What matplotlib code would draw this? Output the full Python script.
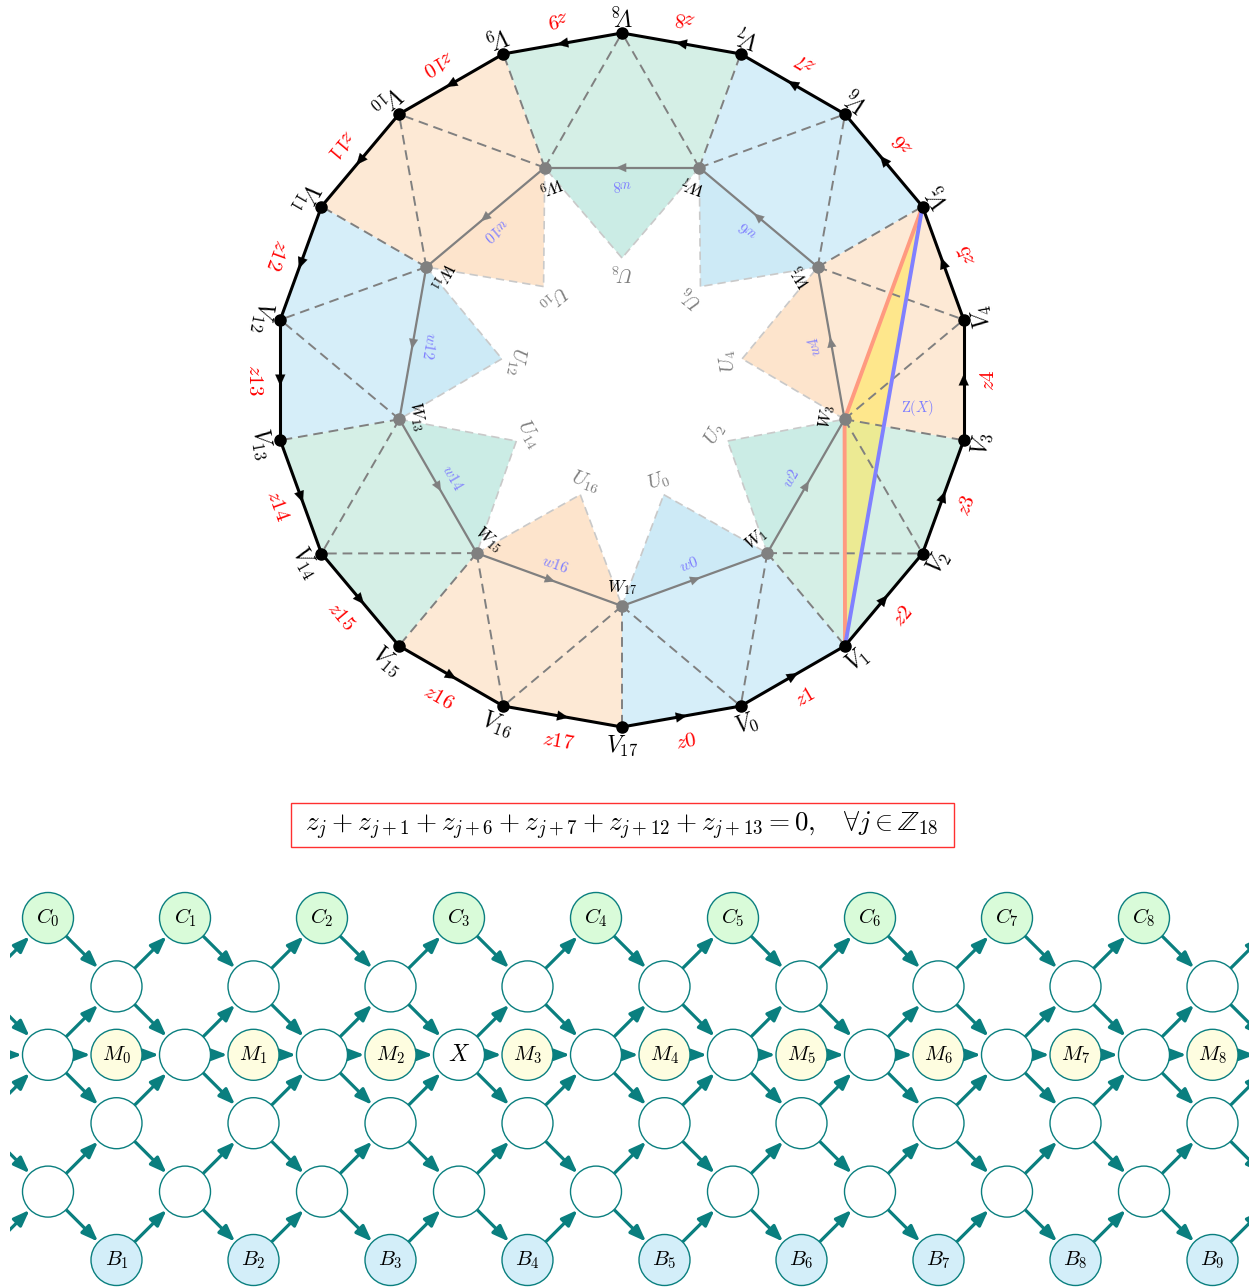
import numpy as np
import matplotlib
matplotlib.use("Agg")
import matplotlib.pyplot as plt
from matplotlib.patches import Polygon, Circle, FancyArrowPatch, Rectangle

plt.rcParams['mathtext.fontset'] = 'cm'
plt.rcParams['font.family'] = ['DejaVu Serif']

# ---------------- data ----------------
outer_vertices = list(range(18))                 # V_0 .. V_17
edge_labels = [f"z{k}" for k in range(18)]       # z_k on edge V_{k-1} -> V_k
inner_w = list(range(1, 18, 2))                  # W_1, W_3, ..., W_17
star_u = list(range(0, 18, 2))                   # U_0, U_2, ..., U_16
inner_edge_labels = [f"w{k}" for k in star_u]    # w_k on W_{k-1} -> W_{k+1}
region_color_names = ["blue", "green", "orange", "blue", "green", "orange", "blue", "green", "orange"]
highlight_path = [1, 3, 5]                       # V1 -> W3 -> V5 vs V1 -> V5
equation = r"$z_j+z_{j+1}+z_{j+6}+z_{j+7}+z_{j+12}+z_{j+13}=0,\quad \forall j\in\mathbb{Z}_{18}$"

top_labels = [f"C_{{{k}}}" for k in range(9)]
middle_labels = [f"M_{{{k}}}" for k in range(9)]
bottom_labels = [f"B_{{{k}}}" for k in range(1, 10)]
special_label = "X"
special_column = 6

# ---------------- style ----------------
W_PX, H_PX = 1249, 1288
CX, CY = 622, 380
R_V, R_W, R_U = 347, 226, 122
outer_fill = {"blue": "#d6eef9", "green": "#d5efe6", "orange": "#fde9d5"}
inner_fill = {"blue": "#cdeaf6", "green": "#cbece5", "orange": "#fde4cc"}
TEAL = "#0a7f7f"


def ang(k):
    return np.deg2rad(-70 + 20 * k)


def pt(r, theta):
    return np.array([CX + r * np.cos(theta), CY - r * np.sin(theta)])


def V(k):
    return pt(R_V, ang(k % 18))


def Wp(k):
    return pt(R_W, ang(k % 18))


def U(k):
    return pt(R_U, ang(k % 18))


def rot(theta):
    return (np.rad2deg(theta) + 90) % 360


def mid_arrow(ax, p, q, color, ms, hl=0.9, hw=0.4, z=6):
    p, q = np.asarray(p), np.asarray(q)
    d = (q - p) / np.linalg.norm(q - p)
    m = (p + q) / 2
    a = FancyArrowPatch(m - 6 * d, m + 6 * d,
                        arrowstyle=f"-|>,head_length={hl},head_width={hw}",
                        mutation_scale=ms, color=color, lw=0.1,
                        shrinkA=0, shrinkB=0, zorder=z)
    ax.add_patch(a)


fig = plt.figure(figsize=(W_PX / 100, H_PX / 100), dpi=100)
ax = fig.add_axes([0, 0, 1, 1])
ax.set_xlim(0, W_PX)
ax.set_ylim(H_PX, 0)
ax.axis("off")

# regions
for k, cname in zip(star_u, region_color_names):
    pent = [V(k - 1), V(k), V(k + 1), Wp(k + 1), Wp(k - 1)]
    ax.add_patch(Polygon(pent, closed=True, facecolor=outer_fill[cname], edgecolor="none", zorder=1))
    tri = [Wp(k - 1), U(k), Wp(k + 1)]
    ax.add_patch(Polygon(tri, closed=True, facecolor=inner_fill[cname], edgecolor="none", zorder=1))
    for a_, b_ in [(Wp(k - 1), U(k)), (U(k), Wp(k + 1))]:
        ax.plot([a_[0], b_[0]], [a_[1], b_[1]], color="#c9c9c9", lw=1.2, ls=(0, (5, 3)), zorder=2)

# yellow triangle
v1, w3, v5 = V(highlight_path[0]), Wp(highlight_path[1]), V(highlight_path[2])
ax.add_patch(Polygon([v1, w3, v5], closed=True, facecolor="#ffe650", alpha=0.55, edgecolor="none", zorder=2))

# dashed spokes
for k in inner_w:
    for j in (k - 1, k, k + 1):
        a_, b_ = Wp(k), V(j)
        ax.plot([a_[0], b_[0]], [a_[1], b_[1]], color="#808080", lw=1.4, ls=(0, (5, 3)), zorder=3)

# highlight lines
ax.plot([v1[0], w3[0], v5[0]], [v1[1], w3[1], v5[1]], color="#ff9a80", lw=2.8, zorder=4, solid_capstyle="round")
ax.plot([v1[0], v5[0]], [v1[1], v5[1]], color="#8080ff", lw=2.8, zorder=4, solid_capstyle="round")
ax.text(917, 408, r"$\mathrm{Z}(X)$", color="#8080ff", fontsize=10.5, ha="center", va="center", zorder=9)

# inner W polygon
for k, lab in zip(star_u, inner_edge_labels):
    p, q = Wp(k - 1), Wp(k + 1)
    ax.plot([p[0], q[0]], [p[1], q[1]], color="#808080", lw=1.6, zorder=5)
    mid_arrow(ax, p, q, "#808080", 8)
    t = ang(k)
    lp = pt(196, t)
    ax.text(lp[0], lp[1], f"${lab[0]}{lab[1:]}$", color="#7f7fff", fontsize=11,
            rotation=rot(t), ha="center", va="center", rotation_mode="anchor", zorder=9)

# outer polygon
for k in outer_vertices:
    p, q = V(k - 1), V(k)
    ax.plot([p[0], q[0]], [p[1], q[1]], color="black", lw=2.2, zorder=6, solid_capstyle="round")
    mid_arrow(ax, p, q, "black", 9)
    t = ang(k) - np.deg2rad(10)
    lp = pt(367, t)
    lab = edge_labels[k]
    ax.text(lp[0], lp[1], f"${lab[0]}{lab[1:]}$", color="red", fontsize=15,
            rotation=rot(t), ha="center", va="center", rotation_mode="anchor", zorder=9)

# dots and labels
for k in outer_vertices:
    p = V(k)
    ax.plot(p[0], p[1], "o", color="black", ms=8, zorder=7)
    t = ang(k)
    lp = pt(366, t)
    ax.text(lp[0], lp[1], f"$V_{{{k}}}$", color="black", fontsize=17,
            rotation=rot(t), ha="center", va="center", rotation_mode="anchor", zorder=9)
for k in inner_w:
    p = Wp(k)
    ax.plot(p[0], p[1], "o", color="#808080", ms=8, zorder=7)
    t = ang(k)
    lp = pt(208, t)
    ax.text(lp[0], lp[1], f"$W_{{{k}}}$", color="black", fontsize=12.5,
            rotation=rot(t), ha="center", va="center", rotation_mode="anchor", zorder=9)
for k in star_u:
    t = ang(k)
    lp = pt(108, t)
    ax.text(lp[0], lp[1], f"$U_{{{k}}}$", color="#808080", fontsize=14.5,
            rotation=rot(t), ha="center", va="center", rotation_mode="anchor", zorder=9)

# equation box
ax.add_patch(Rectangle((291, 803), 663, 44, facecolor="white", edgecolor="#ff3030", lw=1.0, zorder=5))
ax.text(622, 826, equation, fontsize=19.5, ha="center", va="center", zorder=6)

# ---------------- lattice ----------------
LX0 = 10
LY0 = 872
ax2 = fig.add_axes([LX0 / W_PX, 0, (W_PX - LX0) / W_PX, (H_PX - LY0) / H_PX])
ax2.set_xlim(LX0, W_PX)
ax2.set_ylim(H_PX, LY0)
ax2.axis("off")

X0, DX = 48, 68.5
Y0, DY = 918, 68.4
RN = 25.5


def npos(r, i):
    return np.array([X0 + DX * i, Y0 + DY * r])


nodes = {}
for i in range(-1, 19):
    for r in range(6):
        if (r + i) % 2 == 0:
            if r == 0:
                nodes[(r, i)] = ("C", top_labels[i // 2] if 0 <= i // 2 < 9 else None)
            elif r == 5:
                kk = (i + 1) // 2 - 1
                nodes[(r, i)] = ("B", bottom_labels[kk] if 0 <= kk < 9 else None)
            elif r == 2 and i == special_column:
                nodes[(r, i)] = ("X", special_label)
            else:
                nodes[(r, i)] = ("E", None)
        elif r == 2:
            kk = (i - 1) // 2
            nodes[(r, i)] = ("M", middle_labels[kk] if 0 <= kk < 9 else None)

fills = {"C": "#d9fbd9", "B": "#d3eef9", "M": "#fefde0", "E": "white", "X": "white"}


def arrow(p, q):
    d = (q - p) / np.linalg.norm(q - p)
    a = p + d * (RN + 0.5)
    b = q - d * (RN + 0.5)
    ax2.add_patch(FancyArrowPatch(a, b, arrowstyle="-|>,head_length=0.8,head_width=0.3",
                                  mutation_scale=12, color=TEAL, lw=2.3,
                                  shrinkA=0, shrinkB=0, zorder=2))


for (r, i) in nodes:
    for dr in (-1, 1):
        if (r + dr, i + 1) in nodes and (r + i) % 2 == 0 and ((r + dr) + i + 1) % 2 == 0:
            arrow(npos(r, i), npos(r + dr, i + 1))
    if r == 2 and (2, i + 1) in nodes:
        arrow(npos(2, i), npos(2, i + 1))

for (r, i), (kind, lab) in nodes.items():
    if i < 0:
        continue
    p = npos(r, i)
    ax2.add_patch(Circle(p, RN, facecolor=fills[kind], edgecolor=TEAL, lw=1.0, zorder=3))
    if lab:
        ax2.text(p[0], p[1], f"${lab}$", fontsize=17 if kind == "X" else 15,
                 ha="center", va="center", zorder=4)

fig.savefig("out.png", dpi=100)
